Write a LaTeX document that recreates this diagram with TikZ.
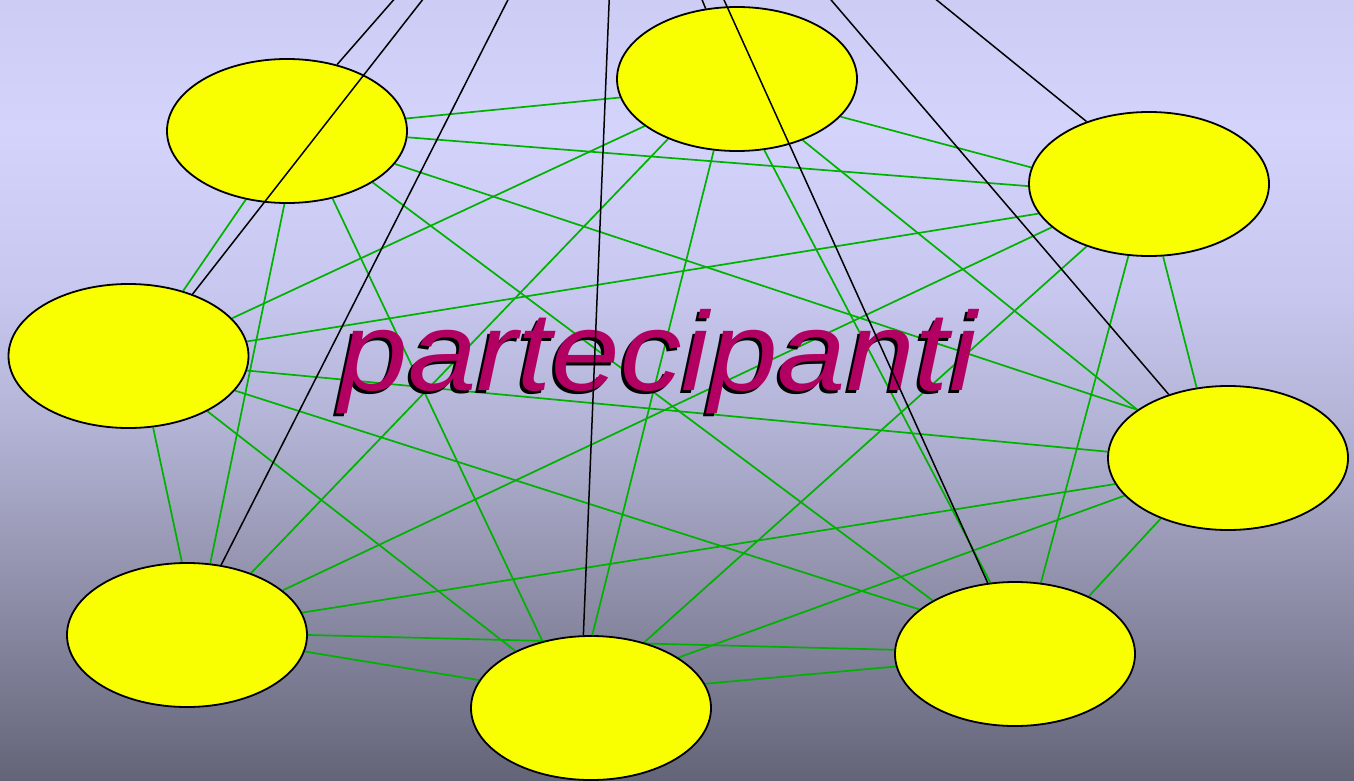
\documentclass[tikz,border=0pt]{standalone}
\usepackage{fontspec}
\newfontfamily\partfont{Liberation Sans}
\usetikzlibrary{shapes.geometric}
\definecolor{bgA}{RGB}{204,204,244}
\definecolor{bgB}{RGB}{211,211,252}
\definecolor{bgC}{RGB}{198,198,238}
\definecolor{bgD}{RGB}{180,180,215}
\definecolor{bgE}{RGB}{150,150,178}
\definecolor{bgF}{RGB}{100,100,120}
\definecolor{partyellow}{RGB}{249,255,0}
\definecolor{linkgreen}{RGB}{0,178,0}
\definecolor{titlemagenta}{RGB}{178,0,98}
\pgfdeclareverticalshading{bgshade}{100bp}{color(0bp)=(bgF); color(25bp)=(bgF); color(39.15bp)=(bgE); color(48.11bp)=(bgD); color(55.79bp)=(bgC); color(66.68bp)=(bgB); color(75bp)=(bgA); color(100bp)=(bgA)}
\pgfdeclarelayer{bglayer}
\pgfdeclarelayer{edgelayer}
\pgfsetlayers{bglayer,edgelayer,main}
\newcommand{\parttitle}{\scalebox{1.1}[1]{partecipanti}}
% node centres (picture pixels)
\def\cxA{287}\def\cyA{131}
\def\cxB{737}\def\cyB{79}
\def\cxC{1149}\def\cyC{184}
\def\cxD{128.5}\def\cyD{356}
\def\cxE{1228}\def\cyE{458}
\def\cxF{187}\def\cyF{635}
\def\cxG{591}\def\cyG{708}
\def\cxH{1015}\def\cyH{654}
\tikzset{
  part/.style={ellipse, draw=black, line width=1.8pt, fill=partyellow, minimum width=240pt, minimum height=144pt, inner sep=0pt},
  link/.style={draw=linkgreen, line width=1.7pt},
  wire/.style={draw=black, line width=1.5pt},
  titletext/.style={font=\partfont\itshape\fontsize{112}{130}\selectfont, anchor=base, inner sep=0pt}
}
\begin{document}
\begin{tikzpicture}[x=1pt,y=-1pt]
\useasboundingbox (0,0) rectangle (1354,781);
\clip (0,0) rectangle (1354,781);
\begin{pgfonlayer}{bglayer}
\shade[shading=bgshade] (0,0) rectangle (1354,781);
\end{pgfonlayer}
\foreach \n in {A,B,C,D,E,F,G,H}
  \node[part] (\n) at (\csname cx\n\endcsname,\csname cy\n\endcsname) {};
\begin{pgfonlayer}{edgelayer}
\foreach \a/\ax/\ay/\b/\bx/\by in {
  A/407/118/B/617/96, A/408/139/C/1028/185, A/245/200/D/183/291,
  A/395/166/E/1133/408, A/284/204/F/210/562, A/332/200/G/541/640,
  A/373/183/H/932/601, B/843/118/C/1030/168, B/641/126/D/232/318,
  B/802/141/E/1130/408, B/666/140/F/250/574, B/713/151/G/592/636,
  B/764/150/H/990/584, C/1035/213/D/249/341, C/1162/256/E/1195/387,
  C/1048/228/F/283/589, C/1087/244/G/644/642, C/1128/256/H/1040/585,
  D/250/371/E/1107/452, D/152/428/F/181/562, D/208/412/G/512/650,
  D/240/393/H/910/606, E/1112/483/F/305/612, E/1120/497/G/679/656,
  E/1160/519/H/1086/597, F/307/652/G/476/680, F/308/633/H/894/651,
  G/708/683/H/895/666}
{
  \edef\acx{\csname cx\a\endcsname}\edef\acy{\csname cy\a\endcsname}
  \edef\bcx{\csname cx\b\endcsname}\edef\bcy{\csname cy\b\endcsname}
  \pgfmathsetmacro\angA{atan2(\acy-\ay,\ax-\acx)}
  \pgfmathsetmacro\angB{atan2(\bcy-\by,\bx-\bcx)}
  \draw[link] (\a.\angA) -- (\b.\angB);
}
\end{pgfonlayer}
\node[titletext, text=black] (titleshadow) at (655,393) {\parttitle};
\node[titletext, text=titlemagenta] (title) at (658,390) {\parttitle};
\coordinate (tA) at (411,-20);
\coordinate (tD) at (438,-20);
\coordinate (tF) at (518,-20);
\coordinate (tG) at (610,-20);
\coordinate (tB) at (694,-20);
\coordinate (tH) at (715,-20);
\coordinate (tE) at (814,-20);
\coordinate (tC) at (912,-20);
\draw[wire] (tA) -- (A.53.7);
\draw[wire] (tD) -- (D.44.1);
\draw[wire] (tF) -- (F.64.1);
\draw[wire] (tG) -- (G.96.3);
\draw[wire] (tB) -- (B.114.6);
\draw[wire] (tH) -- (H.111.5);
\draw[wire] (tE) -- (E.133.6);
\draw[wire] (tC) -- (C.135.5);
\end{tikzpicture}
\end{document}
